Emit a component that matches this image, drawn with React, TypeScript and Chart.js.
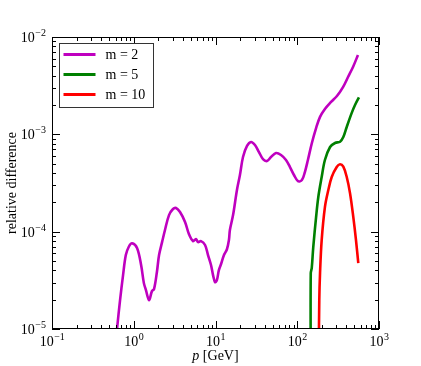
import React, { useEffect, useRef } from "react";
import { Chart, registerables } from "chart.js";

Chart.register(...registerables);

// m = 2 series (p [GeV], relative difference)
const m2X = [0.6, 0.624, 0.68, 0.74, 0.8, 0.87, 0.953, 1.097, 1.23, 1.33, 1.41, 1.54, 1.67, 1.77, 1.92, 2.04, 2.22, 2.41, 2.7, 3.02, 3.29, 3.68, 4.24, 4.74, 5.31, 5.77, 6.11, 6.65, 7.45, 8.1, 8.81, 9.33, 9.87, 10.4, 11.0, 11.7, 12.7, 13.8, 14.6, 15.0, 16.4, 18.3, 19.9, 21.7, 24.3, 27.2, 30.4, 34.0, 38.1, 42.7, 47.8, 55.0, 63.3, 72.8, 81.5, 91.2, 102, 114, 124, 135, 151, 170, 190, 218, 259, 306, 363, 418, 481, 553];
const m2Y = [7e-6, 1e-5, 1.98e-5, 3.58e-5, 5.75e-5, 7.0e-5, 7.6e-5, 6.8e-5, 4.54e-5, 2.96e-5, 2.51e-5, 1.98e-5, 2.45e-5, 2.57e-5, 3.85e-5, 5.75e-5, 7.8e-5, 1.04e-4, 1.48e-4, 1.71e-4, 1.75e-4, 1.59e-4, 1.26e-4, 9.4e-5, 8.0e-5, 8.4e-5, 7.8e-5, 8.0e-5, 7.3e-5, 5.75e-5, 4.54e-5, 3.58e-5, 3.03e-5, 3.18e-5, 4.03e-5, 4.65e-5, 5.75e-5, 6.6e-5, 8.2e-5, 1.04e-4, 1.48e-4, 2.68e-4, 3.82e-4, 5.85e-4, 7.6e-4, 8.34e-4, 7.76e-4, 6.58e-4, 5.57e-4, 5.32e-4, 5.85e-4, 6.43e-4, 6.13e-4, 5.45e-4, 4.61e-4, 3.82e-4, 3.31e-4, 3.39e-4, 4.1e-4, 5.45e-4, 8.15e-4, 1.16e-3, 1.51e-3, 1.82e-3, 2.15e-3, 2.48e-3, 3.06e-3, 3.88e-3, 4.92e-3, 6.53e-3];

// m = 5 series
const m5X = [146, 146.3, 150.4, 157, 170, 181, 199, 218, 252, 290, 334, 366, 403, 464, 509, 569];
const m5Y = [5e-6, 3.76e-5, 4.23e-5, 6.95e-5, 1.41e-4, 2.27e-4, 3.64e-4, 5.45e-4, 7.41e-4, 8.15e-4, 8.4e-4, 9.37e-4, 1.19e-3, 1.66e-3, 2.0e-3, 2.4e-3];

// m = 10 series
const m10X = [183, 186, 190, 199, 218, 240, 264, 304, 333, 366, 403, 442, 485, 523, 558];
const m10Y = [5e-6, 1.98e-5, 3.76e-5, 8.2e-5, 1.79e-4, 2.68e-4, 3.64e-4, 4.61e-4, 4.92e-4, 4.65e-4, 3.64e-4, 2.49e-4, 1.41e-4, 8.2e-5, 4.75e-5];

const seriesLabels = ["m = 2", "m = 5", "m = 10"];
const seriesColors = ["#bf00bf", "#008000", "#ff0000"];

const xMajorExp = [-1, 0, 1, 2, 3];
const yMajorExp = [-5, -4, -3, -2];
const xLabel = "p";
const xLabelUnit = " [GeV]";
const yLabel = "relative difference";

const SERIF = "'Liberation Serif', 'DejaVu Serif', serif";

function toPts(xs: number[], ys: number[]) {
  return xs.map((x, i) => ({ x, y: ys[i] }));
}

const decorPlugin = {
  id: "decor",
  afterDraw(chart: any) {
    const ctx = chart.ctx as CanvasRenderingContext2D;
    const area = chart.chartArea;
    const xs = chart.scales.x;
    const ys = chart.scales.y;
    ctx.save();
    // frame
    ctx.strokeStyle = "#000";
    ctx.lineWidth = 1;
    ctx.strokeRect(area.left + 0.5, area.top + 0.5, area.right - area.left - 1, area.bottom - area.top - 1);

    const drawXTick = (v: number, len: number) => {
      const px = Math.round(xs.getPixelForValue(v)) + 0.5;
      ctx.beginPath();
      ctx.moveTo(px, area.bottom);
      ctx.lineTo(px, area.bottom - len);
      ctx.moveTo(px, area.top);
      ctx.lineTo(px, area.top + len);
      ctx.stroke();
    };
    const drawYTick = (v: number, len: number) => {
      const py = Math.round(ys.getPixelForValue(v)) + 0.5;
      ctx.beginPath();
      ctx.moveTo(area.left, py);
      ctx.lineTo(area.left + len, py);
      ctx.moveTo(area.right, py);
      ctx.lineTo(area.right - len, py);
      ctx.stroke();
    };
    for (let i = 0; i < xMajorExp.length; i++) {
      const e = xMajorExp[i];
      drawXTick(Math.pow(10, e), 8);
      if (i < xMajorExp.length - 1) for (let k = 2; k <= 9; k++) drawXTick(k * Math.pow(10, e), 4);
    }
    for (let i = 0; i < yMajorExp.length; i++) {
      const e = yMajorExp[i];
      drawYTick(Math.pow(10, e), 8);
      if (i < yMajorExp.length - 1) for (let k = 2; k <= 9; k++) drawYTick(k * Math.pow(10, e), 4);
    }

    // tick labels
    ctx.fillStyle = "#000";
    const base = "14px " + SERIF;
    const sup = "10px " + SERIF;
    const expText = (e: number) => (e < 0 ? "\u2212" + Math.abs(e) : String(e));
    for (const e of xMajorExp) {
      const px = xs.getPixelForValue(Math.pow(10, e));
      ctx.font = base;
      const w1 = ctx.measureText("10").width;
      ctx.font = sup;
      const w2 = ctx.measureText(expText(e)).width;
      const start = px - (w1 + w2) / 2;
      ctx.textAlign = "left";
      ctx.textBaseline = "alphabetic";
      ctx.font = base;
      ctx.fillText("10", start, area.bottom + 17);
      ctx.font = sup;
      ctx.fillText(expText(e), start + w1 + 0.5, area.bottom + 11);
    }
    for (const e of yMajorExp) {
      const py = ys.getPixelForValue(Math.pow(10, e));
      ctx.font = sup;
      const w2 = ctx.measureText(expText(e)).width;
      ctx.font = base;
      const w1 = ctx.measureText("10").width;
      const right = area.left - 6;
      ctx.textAlign = "left";
      ctx.textBaseline = "alphabetic";
      ctx.fillText("10", right - w2 - w1 - 0.5, py + 5);
      ctx.font = sup;
      ctx.fillText(expText(e), right - w2, py - 1);
    }

    // axis titles
    ctx.font = "italic 14px " + SERIF;
    const wp = ctx.measureText(xLabel).width;
    ctx.font = "14px " + SERIF;
    const wu = ctx.measureText(xLabelUnit).width;
    const cx = (area.left + area.right) / 2;
    const sx = cx - (wp + wu) / 2;
    ctx.textAlign = "left";
    ctx.font = "italic 14px " + SERIF;
    ctx.fillText(xLabel, sx, area.bottom + 31);
    ctx.font = "14px " + SERIF;
    ctx.fillText(xLabelUnit, sx + wp, area.bottom + 31);

    ctx.save();
    ctx.translate(16, (area.top + area.bottom) / 2);
    ctx.rotate(-Math.PI / 2);
    ctx.textAlign = "center";
    ctx.font = "14px " + SERIF;
    ctx.fillText(yLabel, 0, 0);
    ctx.restore();

    // legend
    const lx = area.left + 7.5;
    const ly = area.top + 6.5;
    const lw = 94;
    const lh = 64;
    ctx.fillStyle = "#fff";
    ctx.fillRect(lx, ly, lw, lh);
    ctx.strokeStyle = "#333";
    ctx.lineWidth = 1;
    ctx.strokeRect(lx, ly, lw, lh);
    ctx.font = "14px " + SERIF;
    ctx.textBaseline = "middle";
    for (let i = 0; i < seriesLabels.length; i++) {
      const y = ly + 11 + i * 20;
      ctx.strokeStyle = seriesColors[i];
      ctx.lineWidth = 3;
      ctx.beginPath();
      ctx.moveTo(lx + 4, y);
      ctx.lineTo(lx + 36, y);
      ctx.stroke();
      ctx.fillStyle = "#000";
      ctx.fillText(seriesLabels[i], lx + 46, y + 1);
    }
    ctx.restore();
  },
};

export default function App() {
  const ref = useRef<HTMLCanvasElement | null>(null);
  useEffect(() => {
    if (!ref.current) return;
    const xs = [m2X, m5X, m10X];
    const ysArr = [m2Y, m5Y, m10Y];
    const chart = new Chart(ref.current, {
      type: "line",
      data: {
        datasets: seriesLabels.map((label, i) => ({
          label,
          data: toPts(xs[i], ysArr[i]),
          borderColor: seriesColors[i],
          backgroundColor: seriesColors[i],
          borderWidth: 2.6,
          pointRadius: 0,
          tension: 0.35,
          fill: false,
        })),
      },
      options: {
        animation: false,
        responsive: false,
        maintainAspectRatio: false,
        layout: { padding: { left: 52, right: 42, top: 37, bottom: 37 } },
        plugins: { legend: { display: false }, tooltip: { enabled: false } },
        scales: {
          x: {
            type: "logarithmic",
            min: 0.1,
            max: 1000,
            ticks: { display: false },
            grid: { display: false, drawTicks: false },
            border: { display: false },
            afterFit: (s: any) => { s.height = 0; },
          },
          y: {
            type: "logarithmic",
            min: 1e-5,
            max: 1e-2,
            ticks: { display: false },
            grid: { display: false, drawTicks: false },
            border: { display: false },
            afterFit: (s: any) => { s.width = 0; },
          },
        },
      },
      plugins: [decorPlugin],
    } as any);
    return () => chart.destroy();
  }, []);
  return (
    <div style={{ position: "fixed", left: 0, top: 0, width: 421, height: 366, background: "#fff" }}>
      <canvas ref={ref} width={421} height={366} style={{ width: 421, height: 366 }} />
    </div>
  );
}
